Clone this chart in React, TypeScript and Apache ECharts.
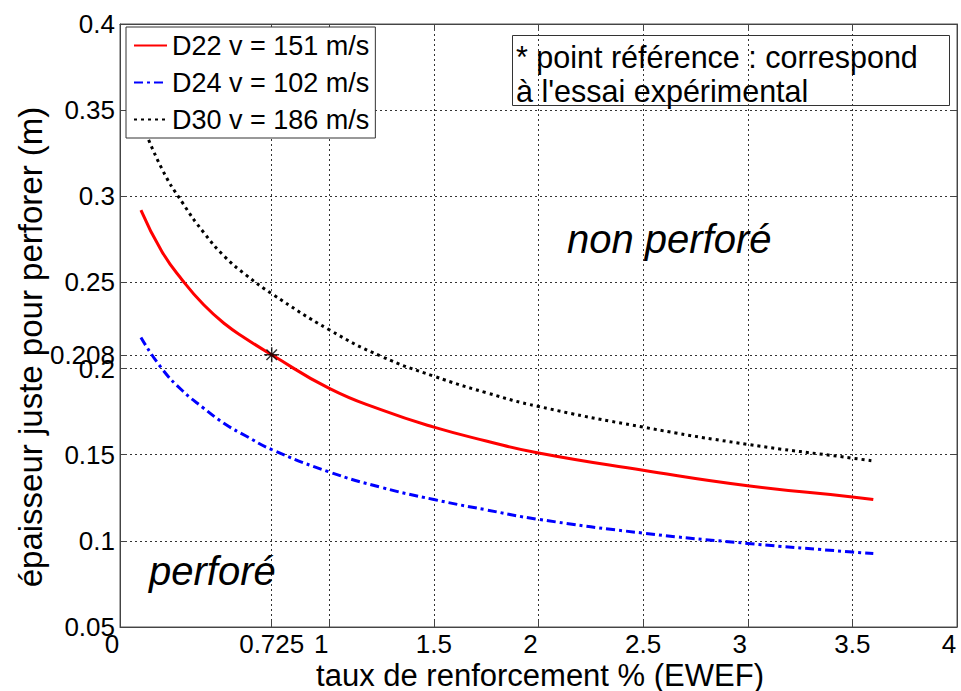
import React, { useEffect, useRef } from 'react';
import * as echarts from 'echarts';

const xValues = [0.1, 0.2, 0.3, 0.4, 0.5, 0.6, 0.725, 1, 1.25, 1.5, 1.75, 2, 2.5, 3, 3.5, 3.6];
const d22Values = [0.292, 0.268, 0.251, 0.237, 0.226, 0.2175, 0.208, 0.1885, 0.176, 0.166, 0.158, 0.151, 0.141, 0.132, 0.1255, 0.124];
const d24Values = [0.218, 0.2, 0.187, 0.177, 0.168, 0.161, 0.153, 0.14, 0.131, 0.124, 0.118, 0.1125, 0.1045, 0.0985, 0.0935, 0.0926];
const d30Values = [0.344, 0.316, 0.296, 0.279, 0.265, 0.2545, 0.2435, 0.2225, 0.207, 0.1956, 0.186, 0.178, 0.166, 0.156, 0.148, 0.1464];
const seriesNames = ['D22 v = 151 m/s', 'D24 v = 102 m/s', 'D30 v = 186 m/s'];
const refPoint = [0.725, 0.208];
const xTicks = [0, 0.725, 1, 1.5, 2, 2.5, 3, 3.5, 4];
const yTicks = [0.05, 0.1, 0.15, 0.2, 0.208, 0.25, 0.3, 0.35, 0.4];
const xTitle = 'taux de renforcement % (EWEF)';
const yTitle = 'épaisseur juste pour perforer (m)';
const noteLines = ["* point référence : correspond", "à l'essai expérimental"];

const FONT = '"Liberation Sans", Arial, Helvetica, sans-serif';

const pairs = (ys: number[]) => xValues.map((x, i) => [x, ys[i]]);

export default function App() {
  const ref = useRef<HTMLDivElement>(null);

  useEffect(() => {
    if (!ref.current) return;
    const chart = echarts.init(ref.current, undefined, { renderer: 'svg' });

    const gridLine = { show: true, lineStyle: { color: '#333', type: [2, 3], width: 1 } };

    const lineCommon = { smooth: 0.5, symbol: 'none', showSymbol: false, z: 3 };

    const option: any = {
      animation: false,
      backgroundColor: '#fff',
      textStyle: { fontFamily: FONT },
      grid: {
        left: 120, right: 4, top: 24, bottom: 64,
        show: true, borderColor: '#555', borderWidth: 1, backgroundColor: 'transparent',
      },
      xAxis: [
        {
          type: 'value', min: 0, max: 4, position: 'bottom',
          axisLine: { show: true, onZero: false, lineStyle: { color: '#444' } },
          axisTick: { show: true, inside: true, length: 7, customValues: xTicks, lineStyle: { color: '#444' } },
          axisLabel: {
            customValues: xTicks, color: '#000', fontSize: 26, fontFamily: FONT, margin: 4,
            formatter: (v: number) => (Number.isInteger(v) ? `{i|${v}}` : String(v)),
            rich: { i: { padding: [0, 16, 0, 0], fontSize: 26, fontFamily: FONT, color: '#000' } },
          },
          splitLine: gridLine,
        },
        {
          type: 'value', min: 0, max: 4, position: 'top',
          axisLine: { show: true, onZero: false, lineStyle: { color: '#444' } },
          axisTick: { show: true, inside: true, length: 7, customValues: xTicks, lineStyle: { color: '#444' } },
          axisLabel: { show: false },
          splitLine: { show: false },
        },
      ],
      yAxis: [
        {
          type: 'value', min: 0.05, max: 0.4, position: 'left',
          axisLine: { show: true, onZero: false, lineStyle: { color: '#444' } },
          axisTick: { show: true, inside: true, length: 7, customValues: yTicks, lineStyle: { color: '#444' } },
          axisLabel: { customValues: yTicks, color: '#000', fontSize: 26, fontFamily: FONT, margin: 5 },
          splitLine: gridLine,
        },
        {
          type: 'value', min: 0.05, max: 0.4, position: 'right',
          axisLine: { show: true, onZero: false, lineStyle: { color: '#444' } },
          axisTick: { show: true, inside: true, length: 7, customValues: yTicks, lineStyle: { color: '#444' } },
          axisLabel: { show: false },
          splitLine: { show: false },
        },
      ],
      legend: {
        data: seriesNames,
        orient: 'vertical',
        left: 126, top: 27,
        padding: [5, 6, 5, 7],
        itemWidth: 33, itemHeight: 14, itemGap: 10,
        backgroundColor: '#fff',
        borderColor: '#333', borderWidth: 1, borderRadius: 0,
        itemStyle: { opacity: 0 },
        textStyle: { fontSize: 27, fontFamily: FONT, color: '#000', lineHeight: 22 },
      },
      series: [
        {
          ...lineCommon, name: seriesNames[0], type: 'line', data: pairs(d22Values),
          color: '#ff0000', lineStyle: { color: '#ff0000', width: 3 },
        },
        {
          ...lineCommon, name: seriesNames[1], type: 'line', data: pairs(d24Values),
          color: '#0000ff', lineStyle: { color: '#0000ff', width: 3, type: [9, 4, 3, 4] },
        },
        {
          ...lineCommon, name: seriesNames[2], type: 'line', data: pairs(d30Values),
          color: '#000', lineStyle: { color: '#000', width: 3, type: [3, 4] },
        },
        {
          name: 'point référence', type: 'scatter', data: [refPoint],
          symbol: 'path://M0,-10L0,10M-10,0L10,0M-7,-7L7,7M-7,7L7,-7',
          symbolSize: 15,
          itemStyle: { color: 'none', borderColor: '#000', borderWidth: 1.5 },
          z: 4,
        },
      ],
      graphic: [
        {
          type: 'rect', left: 510, top: 33, z: 5,
          shape: { width: 437, height: 70 },
          style: { fill: 'none', stroke: '#333', lineWidth: 1 },
        },
        {
          type: 'text', x: 516, y: 57, z: 6,
          style: { text: noteLines[0], fontSize: 30.5, fontFamily: FONT, fill: '#000', verticalAlign: 'middle' },
        },
        {
          type: 'text', x: 516, y: 91, z: 6,
          style: { text: noteLines[1], fontSize: 30.5, fontFamily: FONT, fill: '#000', verticalAlign: 'middle' },
        },
        {
          type: 'text', x: 567, y: 239, z: 6,
          style: { text: 'non perforé', fontSize: 40, fontStyle: 'italic', fontFamily: FONT, fill: '#000', verticalAlign: 'middle' },
        },
        {
          type: 'text', x: 149, y: 571, z: 6,
          style: { text: 'perforé', fontSize: 40, fontStyle: 'italic', fontFamily: FONT, fill: '#000', verticalAlign: 'middle' },
        },
        {
          type: 'text', x: 540, y: 675, z: 6,
          style: { text: xTitle, fontSize: 31, fontFamily: FONT, fill: '#000', align: 'center', verticalAlign: 'middle' },
        },
        {
          type: 'text', x: 30, y: 347, rotation: Math.PI / 2, z: 6,
          style: { text: yTitle, fontSize: 33, fontFamily: FONT, fill: '#000', align: 'center', verticalAlign: 'middle' },
        },
      ],
    };

    chart.setOption(option);
    return () => chart.dispose();
  }, []);

  return (
    <div
      ref={ref}
      style={{ position: 'absolute', left: 0, top: 0, width: 961, height: 691 }}
    />
  );
}
